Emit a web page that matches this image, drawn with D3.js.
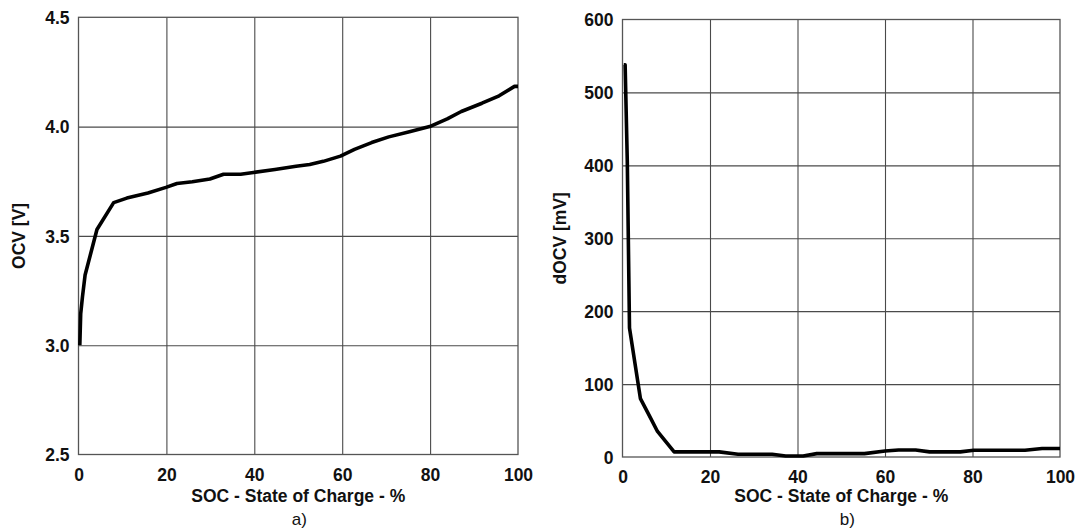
<!DOCTYPE html>
<html>
<head>
<meta charset="utf-8">
<script src="https://cdn.jsdelivr.net/npm/d3@7"></script>
<style>
  html, body { margin: 0; padding: 0; background: #fff; }
  svg { display: block; }
  .tick text, .lbl { font-family: "Liberation Sans", Arial, sans-serif; }
</style>
</head>
<body>
<svg id="chart" width="1078" height="529"></svg>
<script>
// ---- data ----
const socTicks = [0, 20, 40, 60, 80, 100];
const ocvTicks = [2.5, 3.0, 3.5, 4.0, 4.5];
const docvTicks = [0, 100, 200, 300, 400, 500, 600];

// panel a: OCV [V] vs SOC [%]
const ocvSoc = [0.3, 0.5, 0.9, 1.5, 4.2, 8.0, 11.0, 15.8, 19.9, 22.4, 25.9, 29.9, 33.0, 36.9, 39.8, 44.7, 49.5, 52.6, 55.7, 59.6, 62.8, 66.7, 70.6, 75.3, 79.9, 83.9, 87.1, 91.8, 95.7, 99.2, 100];
const ocvVal = [3.00, 3.144, 3.221, 3.321, 3.529, 3.652, 3.673, 3.696, 3.722, 3.740, 3.748, 3.760, 3.782, 3.782, 3.790, 3.804, 3.819, 3.827, 3.841, 3.865, 3.896, 3.927, 3.953, 3.976, 4.000, 4.035, 4.069, 4.107, 4.141, 4.184, 4.184];

// panel b: dOCV [mV] vs SOC [%]
const docvSoc = [0.3, 0.6, 1.1, 1.6, 4.1, 6.1, 8.0, 11.8, 22.1, 26.4, 34.2, 37.3, 41.3, 44.4, 55.3, 60.0, 63.1, 67.0, 70.2, 77.2, 80.3, 92.0, 95.9, 100];
const docvVal = [538, 538, 404, 177, 80, 57, 35, 7, 7, 3.7, 3.7, 1.4, 1.4, 4.6, 4.6, 8.3, 9.7, 9.7, 7, 7, 9.3, 9.3, 11.6, 11.6];

const xTitle = "SOC - State of Charge - %";

const svg = d3.select("#chart");

function panel(cfg) {
  const x = d3.scaleLinear().domain([0, 100]).range([cfg.left, cfg.right]);
  const y = d3.scaleLinear().domain(cfg.yDomain).range([cfg.bottom, cfg.top]);
  const g = svg.append("g");

  // gridlines
  g.append("g").attr("transform", `translate(0,${cfg.bottom})`)
    .call(d3.axisBottom(x).tickValues(socTicks.slice(1, -1)).tickSize(-(cfg.bottom - cfg.top)).tickFormat(""))
    .call(s => s.select(".domain").remove())
    .call(s => s.selectAll("line").attr("stroke", "#4a4a4a").attr("stroke-width", 1.1));
  g.append("g").attr("transform", `translate(${cfg.left},0)`)
    .call(d3.axisLeft(y).tickValues(cfg.yTicks.slice(1, -1)).tickSize(-(cfg.right - cfg.left)).tickFormat(""))
    .call(s => s.select(".domain").remove())
    .call(s => s.selectAll("line").attr("stroke", "#4a4a4a").attr("stroke-width", 1.1));

  // frame
  g.append("rect").attr("x", cfg.left).attr("y", cfg.top)
    .attr("width", cfg.right - cfg.left).attr("height", cfg.bottom - cfg.top)
    .attr("fill", "none").attr("stroke", "#555").attr("stroke-width", 1.3);

  // tick labels
  g.append("g").attr("transform", `translate(0,${cfg.bottom})`)
    .call(d3.axisBottom(x).tickValues(socTicks).tickSize(0).tickPadding(0).tickFormat(d3.format("d")))
    .call(s => s.select(".domain").remove())
    .call(s => s.selectAll("text").attr("dy", null).attr("y", 26)
      .attr("font-size", "17.5px").attr("font-weight", "bold").attr("fill", "#111")
      .attr("font-family", "Liberation Sans, Arial, sans-serif"));
  g.append("g").attr("transform", `translate(${cfg.left},0)`)
    .call(d3.axisLeft(y).tickValues(cfg.yTicks).tickSize(0).tickPadding(0).tickFormat(d3.format(cfg.yFormat)))
    .call(s => s.select(".domain").remove())
    .call(s => s.selectAll("text").attr("x", -9).attr("dy", "0.36em")
      .attr("font-size", "17.5px").attr("font-weight", "bold").attr("fill", "#111")
      .attr("font-family", "Liberation Sans, Arial, sans-serif"));

  // titles
  const cx = (cfg.left + cfg.right) / 2;
  g.append("text").attr("class", "lbl").attr("x", cx).attr("y", 502)
    .attr("text-anchor", "middle").attr("font-size", "17.5px").attr("font-weight", "bold").attr("fill", "#111")
    .text(xTitle);
  g.append("text").attr("class", "lbl")
    .attr("transform", `translate(${cfg.yTitleX},${(cfg.top + cfg.bottom) / 2}) rotate(-90)`)
    .attr("text-anchor", "middle").attr("font-size", "17.5px").attr("font-weight", "bold").attr("fill", "#111")
    .text(cfg.yTitle);
  g.append("text").attr("class", "lbl").attr("x", cx + cfg.capDx).attr("y", 525)
    .attr("text-anchor", "middle").attr("font-size", "17px").attr("fill", "#111")
    .text(cfg.caption);

  // curve
  const pts = cfg.xs.map((s, i) => [s, cfg.ys[i]]);
  g.append("path").datum(pts)
    .attr("fill", "none").attr("stroke", "#000").attr("stroke-width", 3.6)
    .attr("stroke-linejoin", "round").attr("stroke-linecap", "butt")
    .attr("d", d3.line().x(d => x(d[0])).y(d => y(d[1])));
}

panel({
  left: 78.5, right: 518, top: 17.3, bottom: 454.5,
  yDomain: [2.5, 4.5], yTicks: ocvTicks, yFormat: ".1f",
  yTitle: "OCV [V]", yTitleX: 25, caption: "a)", capDx: 1,
  xs: ocvSoc, ys: ocvVal
});
panel({
  left: 622.5, right: 1060, top: 19.5, bottom: 457,
  yDomain: [0, 600], yTicks: docvTicks, yFormat: "d",
  yTitle: "dOCV [mV]", yTitleX: 566, caption: "b)", capDx: 6,
  xs: docvSoc, ys: docvVal
});
</script>
</body>
</html>
